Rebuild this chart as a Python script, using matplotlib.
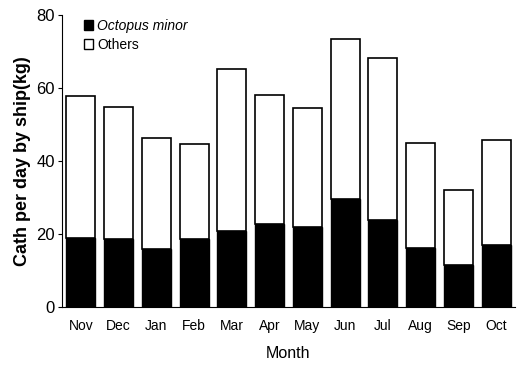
import numpy as np
import matplotlib.pyplot as plt
from matplotlib.patches import Patch

months = ['Nov', 'Dec', 'Jan', 'Feb', 'Mar', 'Apr', 'May', 'Jun', 'Jul', 'Aug', 'Sep', 'Oct']
octopus = [18.8, 18.5, 15.8, 18.7, 20.8, 22.7, 22.0, 29.6, 23.8, 16.1, 11.5, 17.0]
total = [57.8, 54.9, 46.4, 44.6, 65.2, 58.2, 54.5, 73.5, 68.1, 45.0, 32.1, 45.8]
others = [t - o for t, o in zip(total, octopus)]

plt.rcParams['font.family'] = ['Liberation Sans', 'DejaVu Sans']

fig = plt.figure(figsize=(5.17, 3.68), dpi=100)
ax = fig.add_axes([0.12, 0.166, 0.876, 0.793])

x = np.arange(len(months))
ax.bar(x, octopus, width=0.77, color='black', edgecolor='black', linewidth=1)
ax.bar(x, others, bottom=octopus, width=0.77, color='white', edgecolor='black', linewidth=1.2)

ax.set_xlim(-0.5, 11.5)
ax.set_ylim(0, 80)
ax.set_yticks([0, 20, 40, 60, 80])
ax.set_xticks(x)
ax.set_xticklabels(months, fontsize=10)
ax.tick_params(axis='x', length=0, pad=9)
ax.tick_params(axis='y', labelsize=12, length=3, direction='out', pad=2)
for s in ['top', 'right']:
    ax.spines[s].set_visible(False)

ax.set_ylabel('Cath per day by ship(kg)', fontsize=13, fontweight='bold', labelpad=4)
ax.set_xlabel('Month', fontsize=11.5, labelpad=9)

handles = [Patch(facecolor='black', edgecolor='black'),
           Patch(facecolor='white', edgecolor='black')]
leg = ax.legend(handles, ['Octopus minor', 'Others'], loc='upper left',
                bbox_to_anchor=(0.02, 1.03), frameon=False, fontsize=10,
                handlelength=0.7, handleheight=0.7, handletextpad=0.3,
                labelspacing=0.35)
leg.get_texts()[0].set_fontstyle('italic')

fig.savefig('out.png', dpi=100)
